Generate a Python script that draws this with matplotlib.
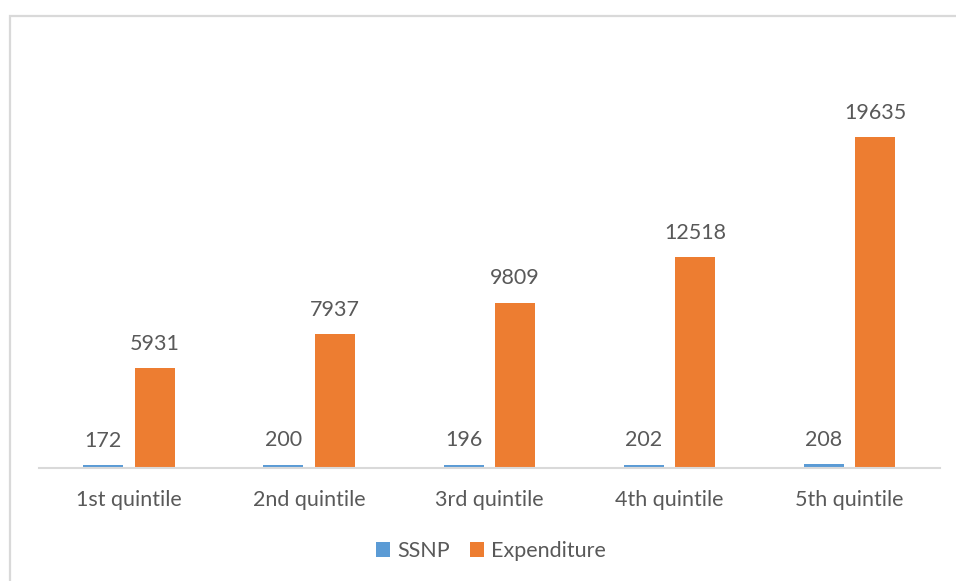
import numpy as np
import matplotlib.pyplot as plt
from matplotlib.patches import Rectangle

# data
categories = ['1st quintile', '2nd quintile', '3rd quintile', '4th quintile', '5th quintile']
ssnp = [172, 200, 196, 202, 208]
expenditure = [5931, 7937, 9809, 12518, 19635]

blue = '#5B9BD5'
orange = '#ED7D31'
text_col = '#595959'

plt.rcParams['font.family'] = ['Lato', 'DejaVu Sans']

fig = plt.figure(figsize=(9.56, 5.81), dpi=100)
ax = fig.add_axes([0.0408, 0.1945, 0.9422, 0.7245])

# chart border (only left/top inside the picture)
fig.patches.append(Rectangle((9.5 / 956, -0.1), 1.2, 1 - 15.5 / 581 + 0.1,
                             transform=fig.transFigure, fill=False,
                             edgecolor='#d9d9d9', linewidth=1.6))

x = np.arange(len(categories))
w = 0.222
off = 0.143
b1 = ax.bar(x - off, ssnp, w, color=blue, label='SSNP')
b2 = ax.bar(x + off, expenditure, w, color=orange, label='Expenditure')

for bars, vals in ((b1, ssnp), (b2, expenditure)):
    for r, v in zip(bars, vals):
        ax.annotate(str(v), (r.get_x() + r.get_width() / 2, r.get_height()),
                    xytext=(0, 10.5), textcoords='offset points',
                    ha='center', va='bottom', fontsize=15.5, color=text_col)

ax.set_xlim(-0.5, len(categories) - 0.5)
ax.set_ylim(0, 25000)
ax.set_yticks([])
ax.set_xticks(x)
ax.set_xticklabels(categories, fontsize=15.5, color=text_col)
ax.tick_params(axis='x', length=0, pad=16)
for s in ['top', 'right', 'left']:
    ax.spines[s].set_visible(False)
ax.spines['bottom'].set_color('#d9d9d9')
ax.spines['bottom'].set_linewidth(1.5)

fig.legend(loc='center', bbox_to_anchor=(491 / 956, 1 - 551 / 581), ncol=2,
           frameon=False, fontsize=15.5, handlelength=0.65, handleheight=0.65,
           handletextpad=0.35, columnspacing=0.9, labelcolor=text_col)

fig.savefig('out.png', dpi=100)
